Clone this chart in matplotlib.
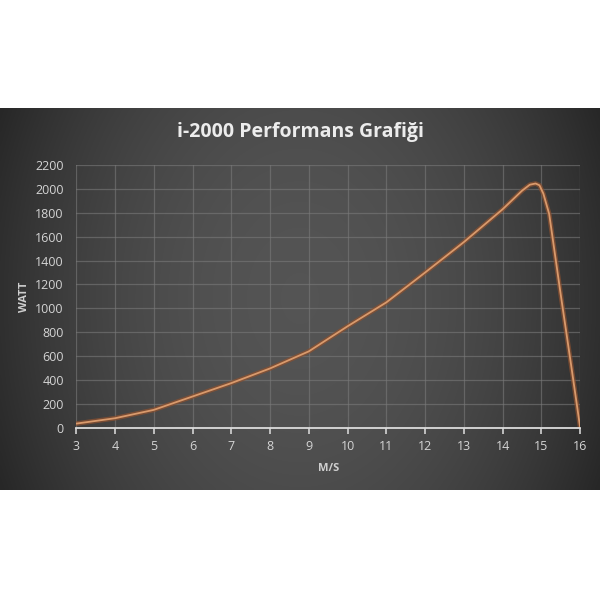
import numpy as np
import matplotlib
matplotlib.use("Agg")
import matplotlib.pyplot as plt

# wind speed (m/s) vs output power (W)
speed = [3, 4, 5, 6, 7, 8, 9, 10, 11, 12, 13, 14, 14.5, 14.7, 14.85, 14.95, 15.05, 15.2, 15.5, 15.75, 16]
power = [35, 80, 150, 262, 374, 497, 640, 850, 1050, 1300, 1555, 1830, 1985, 2035, 2045, 2030, 1960, 1790, 1110, 560, 0]

x_ticks = list(range(3, 17))
y_ticks = list(range(0, 2201, 200))

title = "i-2000 Performans Grafiği"
x_label = "M/S"
y_label = "WATT"

plt.rcParams['font.family'] = ['Open Sans', 'DejaVu Sans']

fig = plt.figure(figsize=(6, 6), dpi=100, facecolor='white')

# dark panel with a soft vignette
bg = fig.add_axes([0, 0.183, 1, 0.637])
gx, gy = np.meshgrid(np.linspace(-1, 1, 300), np.linspace(-1, 1, 120))
r = np.sqrt((gx * 0.95) ** 2 + (gy * 0.45) ** 2)
shade = 0.33 - 0.16 * np.clip(r, 0, 1.3) ** 2
bg.imshow(np.dstack([shade, shade, shade]), aspect='auto', extent=[0, 1, 0, 1], interpolation='bilinear')
bg.set_axis_off()

ax = fig.add_axes([0.127, 0.287, 0.840, 0.438])
ax.patch.set_alpha(0)

ax.plot(speed, power, color='#8a5030', lw=3.4, alpha=0.75, solid_capstyle='round',
        solid_joinstyle='round', zorder=3)
ax.plot(speed, power, color='#d99a6c', lw=1.3, solid_capstyle='round',
        solid_joinstyle='round', zorder=4)

ax.set_xlim(3, 16)
ax.set_ylim(0, 2200)
ax.set_xticks(x_ticks)
ax.set_yticks(y_ticks)
ax.grid(True, color='#7a7a7a', lw=0.9, alpha=0.6, zorder=1)
ax.set_axisbelow(True)

for s in ['top', 'right', 'left']:
    ax.spines[s].set_visible(False)
ax.spines['bottom'].set_color('#dcdcdc')
ax.spines['bottom'].set_linewidth(1.3)
ax.spines['bottom'].set_zorder(5)

ax.tick_params(axis='x', colors='#d4d4d4', direction='out', length=4, width=1.2,
               labelsize=9, pad=5)
ax.tick_params(axis='y', colors='#d4d4d4', length=0, labelsize=9, pad=9)

ax.set_xlabel(x_label, color='#cfcfcf', fontsize=8, fontweight='bold', labelpad=7)
ax.set_ylabel(y_label, color='#cfcfcf', fontsize=8, fontweight='bold', labelpad=4)

fig.text(0.5, 0.78, title, ha='center', va='center', color='#ececec',
         fontsize=14, fontweight='bold')

fig.savefig('out.png', dpi=100, facecolor='white')
